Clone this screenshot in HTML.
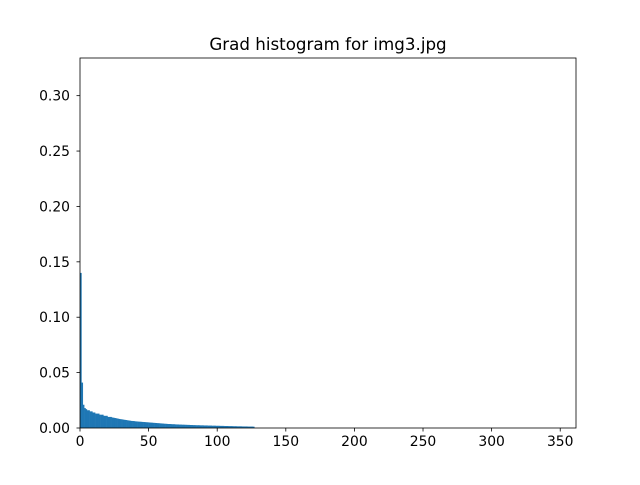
<!DOCTYPE html>
<html><head><meta charset="utf-8"><style>
body{margin:0;background:#fff;font-family:"Liberation Sans","DejaVu Sans",sans-serif}
svg text{font-family:"DejaVu Sans","Liberation Sans",sans-serif;font-size:13.9px}
</style></head><body>
<svg id="c" width="640" height="480">
<rect width="640" height="480" fill="#fff"/>
<text x="328" y="50" text-anchor="middle" style="font-size:16.7px">Grad histogram for img3.jpg</text>
<g id="bars"></g>
<g id="xt"></g>
<g id="yt"></g>
<rect x="80" y="58" width="496" height="370" fill="none" stroke="#000" stroke-width="0.8"/>
</svg>
<script>
const binStart = 0;
const binValues = [
.140,.041,.021,.018,.017,.016,.016,.015,.015,.014,
.014,.013,.013,.013,.012,.012,.012,.011,.011,.011,
.010,.010,.010,.0095,.0093,.009,.0088,.0085,.0082,.008,
.0078,.0076,.0074,.0072,.007,.0068,.0066,.0064,.0063,.0062,
.006,.0059,.0058,.0057,.0056,.0055,.0054,.0053,.0052,.0051,
.005,.0049,.0048,.0047,.0046,.0045,.0044,.0043,.0042,.0041,
.004,.0039,.0038,.0037,.0036,.0036,.0035,.0034,.0034,.0033,
.0032,.0032,.0031,.0031,.003,.003,.0029,.0029,.0028,.0028,
.0027,.0027,.0026,.0026,.0025,.0025,.0025,.0024,.0024,.0024,
.0023,.0023,.0023,.0022,.0022,.0022,.0021,.0021,.0021,.0020,
.0020,.0020,.0019,.0019,.0019,.0018,.0018,.0018,.0017,.0017,
.0017,.0016,.0016,.0016,.0015,.0015,.0015,.0015,.0014,.0014,
.0014,.0014,.0013,.0013,.0013,.0013,.0012
];
const xTicks = [0,50,100,150,200,250,300,350];
const yTicks = [0.00,0.05,0.10,0.15,0.20,0.25,0.30];
const NS='http://www.w3.org/2000/svg';
const X0=80,X1=576,Y0=428,Y1=58,xmax=361.5,ymax=0.334;
const sx=v=>X0+v/xmax*(X1-X0);
const sy=v=>Y0-v/ymax*(Y0-Y1);
const bars=document.getElementById('bars');
binValues.forEach((v,i)=>{
  const r=document.createElementNS(NS,'rect');
  const a=sx(binStart+i),b=sx(binStart+i+1);
  r.setAttribute('x',a);r.setAttribute('width',b-a+0.3);
  r.setAttribute('y',sy(v));r.setAttribute('height',Y0-sy(v));
  r.setAttribute('fill','#1f77b4');
  
  
  bars.appendChild(r);
});
const xt=document.getElementById('xt');
xTicks.forEach(t=>{
  const l=document.createElementNS(NS,'line');
  l.setAttribute('x1',sx(t));l.setAttribute('x2',sx(t));l.setAttribute('y1',Y0);l.setAttribute('y2',Y0+3.5);l.setAttribute('stroke','#000');l.setAttribute('stroke-width','0.8');
  
  
  xt.appendChild(l);
  const tx=document.createElementNS(NS,'text');
  tx.setAttribute('x',sx(t));tx.setAttribute('y',Y0+18);tx.setAttribute('text-anchor','middle');tx.textContent=t;
  
  
  xt.appendChild(tx);
});
const yt=document.getElementById('yt');
yTicks.forEach(t=>{
  const l=document.createElementNS(NS,'line');
  l.setAttribute('x1',X0-3.5);l.setAttribute('x2',X0);l.setAttribute('y1',sy(t));l.setAttribute('y2',sy(t));l.setAttribute('stroke','#000');l.setAttribute('stroke-width','0.8');
  
  
  yt.appendChild(l);
  const tx=document.createElementNS(NS,'text');
  tx.setAttribute('x',X0-10);tx.setAttribute('y',sy(t)+5);tx.setAttribute('text-anchor','end');tx.textContent=t.toFixed(2);
  
  
  yt.appendChild(tx);
});
</script>
</body></html>
